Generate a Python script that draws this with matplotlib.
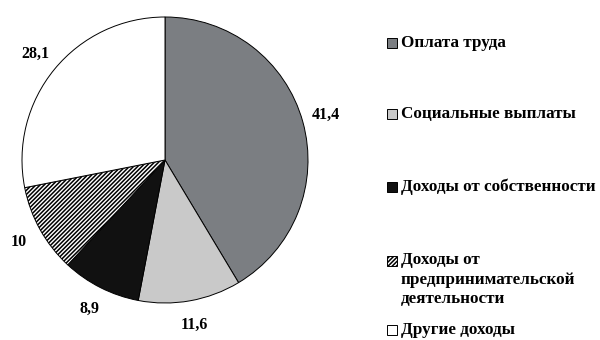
import matplotlib.pyplot as plt
from matplotlib.patches import Rectangle

categories = [
    "Оплата труда",
    "Социальные выплаты",
    "Доходы от собственности",
    "Доходы от\nпредпринимательской\nдеятельности",
    "Другие доходы",
]
values = [41.4, 11.6, 8.9, 10, 28.1]
value_labels = ["41,4", "11,6", "8,9", "10", "28,1"]

colors = ["#7b7e82", "#c9c9c9", "#111111", "white", "white"]
hatches = [None, None, None, "////////", None]

plt.rcParams["font.family"] = ["Liberation Serif", "DejaVu Serif"]
plt.rcParams["hatch.linewidth"] = 1.1

W, H = 600, 340
fig = plt.figure(figsize=(W / 100, H / 100), dpi=100)
# pie centre at (165, 160) px, radius ~143 px
ax = fig.add_axes([0, 20 / H, 330 / W, 320 / H])

wedges, texts = ax.pie(
    values, colors=colors, startangle=90, counterclock=False,
    labels=value_labels, labeldistance=1.17,
    wedgeprops=dict(edgecolor="black", linewidth=0.7),
    textprops=dict(fontsize=11.5, fontweight="bold"),
)
for w, h in zip(wedges, hatches):
    if h:
        w.set_hatch(h)
for t in texts:
    t.set_ha("center")
    t.set_va("center")
ax.set_xlim(-165 / 143, 165 / 143)
ax.set_ylim(-160 / 143, 160 / 143)

# legend drawn by hand to match the uneven spacing of the original
leg_y_px = [43, 114, 187, 261, 330]
for lab, c, h, ypx in zip(categories, colors, hatches, leg_y_px):
    y = 1 - ypx / H
    fig.add_artist(Rectangle((387 / W, y - 5 / H), 10 / W, 10 / H,
                             transform=fig.transFigure, facecolor=c,
                             edgecolor="black", linewidth=0.7, hatch=h))
    if "\n" in lab:
        fig.text(401 / W, y + 9 / H, lab, ha="left", va="top",
                 fontsize=12.3, fontweight="bold", linespacing=1.3)
    else:
        fig.text(401 / W, y, lab, ha="left", va="center",
                 fontsize=12.3, fontweight="bold")

fig.savefig("out.png", dpi=100)
